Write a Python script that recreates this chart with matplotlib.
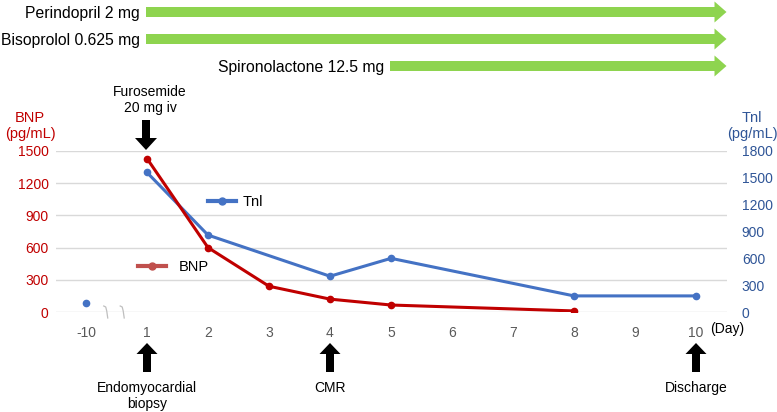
import numpy as np
import matplotlib
matplotlib.use("Agg")
import matplotlib.pyplot as plt
from matplotlib.lines import Line2D
from matplotlib.patches import FancyArrow

plt.rcParams['font.family'] = ['Liberation Sans', 'DejaVu Sans']

# data
day_labels = ['-10', '1', '2', '3', '4', '5', '6', '7', '8', '9', '10']
bnp_days = ['1', '2', '3', '4', '5', '8']
bnp_vals = [1430, 600, 240, 120, 65, 10]
tni_pre_day = '-10'
tni_pre_val = 100
tni_days = ['1', '2', '4', '5', '8', '10']
tni_vals = [1560, 860, 400, 600, 180, 180]

drugs = ['Perindopril 2 mg', 'Bisoprolol 0.625 mg', 'Spironolactone 12.5 mg']
drug_start = ['1', '1', '5']
events = [('1', 'Endomyocardial\nbiopsy'), ('4', 'CMR'), ('10', 'Discharge')]

RED = '#C00000'
BLUE = '#4472C4'
GREEN = '#8ED44F'
W, H = 777, 412


def rect(l, t, r, b):
    return [l / W, 1 - b / H, (r - l) / W, (b - t) / H]


def pos(d):
    return day_labels.index(d)


fig = plt.figure(figsize=(W / 100, H / 100), dpi=100)
ax = fig.add_axes(rect(55.5, 151, 726.5, 312))
ax2 = ax.twinx()

ax.set_xlim(-0.5, 10.5)
ax.set_ylim(0, 1500)
ax2.set_ylim(0, 1800)
ax.set_yticks(np.arange(0, 1501, 300))
ax2.set_yticks(np.arange(0, 1801, 300))
ax.set_xticks(np.arange(len(day_labels)))
ax.set_xticklabels(day_labels)
ax.grid(axis='y', color='#D9D9D9', lw=1)
ax.set_axisbelow(True)
for a in (ax, ax2):
    for s in a.spines.values():
        s.set_visible(False)
ax.tick_params(axis='x', length=0, pad=10, labelsize=10, labelcolor='#595959')
ax.tick_params(axis='y', length=0, pad=5, labelsize=10, labelcolor=RED)
ax2.tick_params(axis='y', length=0, pad=11, labelsize=10, labelcolor='#2F5597')

# TnI on right axis
ax2.plot([pos(d) for d in tni_days], tni_vals, color=BLUE, lw=2.2,
         marker='o', ms=4.5, zorder=3)
ax2.plot([pos(tni_pre_day)], [tni_pre_val], 'o', color=BLUE, ms=4.5, zorder=3)
# BNP on left axis, drawn above TnI
ax2.plot([pos(d) for d in bnp_days], bnp_vals, color=RED, lw=2.2,
         marker='o', ms=4.5, zorder=4, transform=ax.transData)

# legend keys placed inside the plot
leg1 = ax2.legend(handles=[Line2D([], [], color=BLUE, lw=3, marker='o', ms=5)],
                  labels=['Tnl'], loc='center left',
                  bbox_to_anchor=(208 / W, 1 - 202 / H), bbox_transform=fig.transFigure,
                  frameon=False, borderpad=0, borderaxespad=0, handlelength=1.95,
                  handletextpad=0.4, fontsize=10.5)
ax2.add_artist(leg1)
ax2.legend(handles=[Line2D([], [], color='#C0504D', lw=3, marker='o', ms=5)],
           labels=['BNP'], loc='center left',
           bbox_to_anchor=(138 / W, 1 - 267 / H), bbox_transform=fig.transFigure,
           frameon=False, borderpad=0, borderaxespad=0, handlelength=1.95,
           handletextpad=0.85, fontsize=10.5)

# overlay in pixel coordinates for annotations
ov = fig.add_axes([0, 0, 1, 1], zorder=10)
ov.set_xlim(0, W)
ov.set_ylim(H, 0)
ov.axis('off')


def xpx(p):
    return ax.transData.transform((p, 0))[0]


# drug arrows
x_end = xpx(10.5)
for i, (name, d) in enumerate(zip(drugs, drug_start)):
    y = 12 + 27 * i
    x0 = xpx(pos(d)) - 1
    ov.add_patch(FancyArrow(x0, y, x_end - x0, 0, width=10, head_width=21,
                            head_length=12, length_includes_head=True,
                            color=GREEN, lw=0))
    ov.text(x0 - 6, y + 1, name, ha='right', va='center', fontsize=11.3)

# furosemide
xf = xpx(pos('1'))
ov.text(xf + 3, 100, 'Furosemide\n20 mg iv', ha='center', va='center',
        fontsize=10, linespacing=1.2)
ov.add_patch(FancyArrow(xf - 1, 120, 0, 30, width=8, head_width=22,
                        head_length=12, length_includes_head=True,
                        color='black', lw=0))

# event arrows below axis
for d, label in events:
    x = xpx(pos(d))
    ov.add_patch(FancyArrow(x, 372, 0, -29, width=8, head_width=21,
                            head_length=11, length_includes_head=True,
                            color='black', lw=0))
    ov.text(x, 381, label, ha='center', va='top', fontsize=10, linespacing=1.2)

# axis titles
ov.text(30, 126, 'BNP\n(pg/mL)', ha='center', va='center', color=RED,
        fontsize=10.5, linespacing=1.25)
ov.text(752, 126, 'Tnl\n(pg/mL)', ha='center', va='center', color='#2F5597',
        fontsize=10.5, linespacing=1.25)
ov.text(xpx(10.5) + 1, 329, '(Day)', ha='center', va='center', fontsize=10)

# axis break marks
for p in (0.34, 0.61):
    xb = xpx(p)
    ov.plot([xb - 3, xb - 1, xb, xb + 1], [306, 307, 311, 318],
            color='#BFBFBF', lw=0.9)

fig.savefig('out.png', dpi=100)
